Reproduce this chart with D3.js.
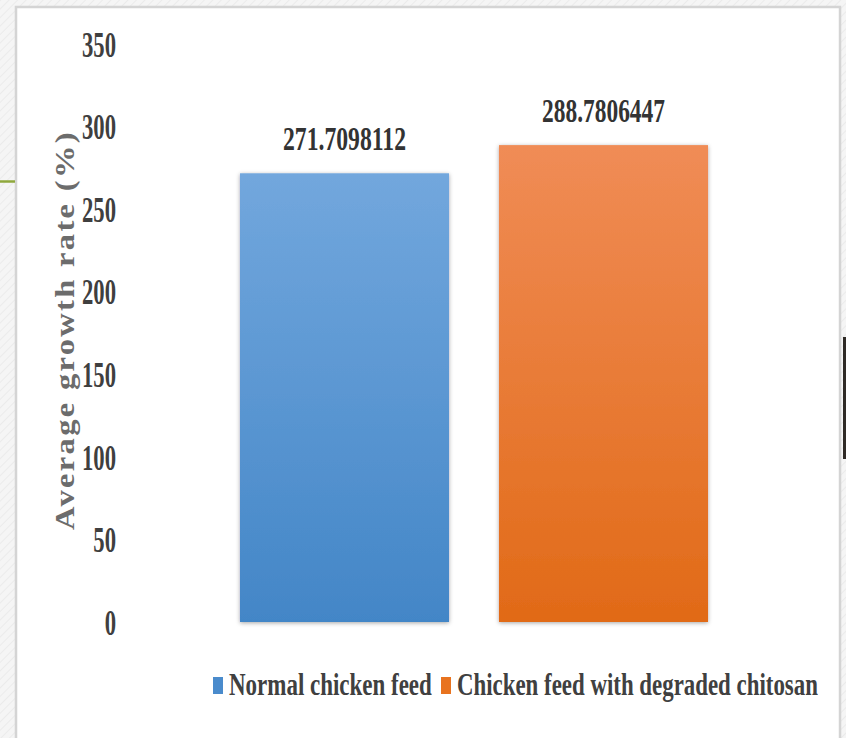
<!DOCTYPE html>
<html>
<head>
<meta charset="utf-8">
<script src="https://cdn.jsdelivr.net/npm/d3@7"></script>
<style>
  html, body { margin: 0; padding: 0; background: #fff; }
  svg { display: block; }
</style>
</head>
<body>
<svg id="chart" width="846" height="738"></svg>
<script>
// Average growth rate per feed type
const categories = ["Normal chicken feed", "Chicken feed with degraded chitosan"];
const values = [271.7098112, 288.7806447];
const valueLabels = ["271.7098112", "288.7806447"];
const yTicks = [0, 50, 100, 150, 200, 250, 300, 350];
const yTitle = "Average growth rate (%)";

const svg = d3.select("#chart");
const W = 846, H = 738;
const FONT = "'Liberation Serif', 'Times New Roman', serif";
const defs = svg.append("defs");

// faint diagonal hatch for the slide backdrop
const hatch = defs.append("pattern")
  .attr("id", "hatch").attr("width", 6).attr("height", 6)
  .attr("patternUnits", "userSpaceOnUse")
  .attr("patternTransform", "rotate(45)");
hatch.append("rect").attr("width", 6).attr("height", 6).attr("fill", "#f5f5f5");
hatch.append("line").attr("x1", 0).attr("y1", 0).attr("x2", 0).attr("y2", 6)
  .attr("stroke", "#ebebeb").attr("stroke-width", 2);

// bar gradients
const gradStops = [
  ["#72a7dd", "#4386c7"],
  ["#f08c56", "#e16a17"]
];
gradStops.forEach((s, i) => {
  const g = defs.append("linearGradient").attr("id", "grad" + i)
    .attr("x1", 0).attr("y1", 0).attr("x2", 0).attr("y2", 1);
  g.append("stop").attr("offset", "0%").attr("stop-color", s[0]);
  g.append("stop").attr("offset", "100%").attr("stop-color", s[1]);
});

// soft shadow under the bars
const sh = defs.append("filter").attr("id", "shadow")
  .attr("x", "-10%").attr("y", "-10%").attr("width", "120%").attr("height", "120%");
sh.append("feDropShadow").attr("dx", 0).attr("dy", 1).attr("stdDeviation", 2.2)
  .attr("flood-color", "#000").attr("flood-opacity", 0.35);

// backdrop and white panel
svg.append("rect").attr("width", W).attr("height", H).attr("fill", "url(#hatch)");
svg.append("rect").attr("x", 16).attr("y", 7).attr("width", 824).attr("height", 740)
  .attr("fill", "#fff").attr("stroke", "#d4d4d4").attr("stroke-width", 2.5);
svg.append("line").attr("x1", 0).attr("x2", 15).attr("y1", 181.5).attr("y2", 181.5)
  .attr("stroke", "#8fa83c").attr("stroke-width", 2.5);
svg.append("rect").attr("x", 843).attr("y", 337).attr("width", 3).attr("height", 122)
  .attr("fill", "#2f2a26");

// condensed text: a text squeezed horizontally to a given width
function fitText(parent, str, opts) {
  const g = parent.append("g");
  const t = g.append("text")
    .attr("text-anchor", opts.anchor || "start")
    .attr("font-family", FONT).attr("font-weight", "bold")
    .attr("font-size", opts.size).attr("fill", opts.fill)
    .attr("letter-spacing", opts.spacing || 0)
    .text(str);
  const natural = t.node().getComputedTextLength();
  const sx = opts.width / natural;
  g.attr("transform",
    `translate(${opts.x},${opts.y})` + (opts.rotate ? ` rotate(${opts.rotate})` : "") +
    ` scale(${sx},1)`);
  return t;
}

// scales
const y = d3.scaleLinear().domain([0, 350]).range([622, 44]);
const x = d3.scaleBand().domain(categories).range([215, 733])
  .paddingInner(0.193).paddingOuter(0.0965);

// y axis (labels only)
const yAxis = svg.append("g").attr("transform", "translate(116,0)")
  .call(d3.axisLeft(y).tickValues(yTicks).tickSize(0).tickPadding(0));
yAxis.select(".domain").remove();
yAxis.selectAll("text")
  .attr("x", 0).attr("dy", "0.34em")
  .attr("transform", "scale(0.63,1)")
  .attr("font-family", FONT)
  .attr("font-weight", "bold").attr("font-size", 36).attr("fill", "#3f3f3f");

// y axis title, rotated
fitText(svg, yTitle, { x: 74, y: 330, rotate: -90, anchor: "middle",
  size: 28, spacing: 2, width: 400, fill: "#6c6c6c" });

// bars
const fills = ["url(#grad0)", "url(#grad1)"];
svg.append("g").selectAll("rect").data(values).join("rect")
  .attr("x", (d, i) => x(categories[i]))
  .attr("y", d => y(d))
  .attr("width", x.bandwidth())
  .attr("height", d => y(0) - y(d))
  .attr("fill", (d, i) => fills[i])
  .attr("filter", "url(#shadow)");

// value labels
const labelG = svg.append("g");
values.forEach((v, i) => {
  fitText(labelG, valueLabels[i], {
    x: x(categories[i]) + x.bandwidth() / 2, y: y(v) - 23, anchor: "middle",
    size: 34, width: 123, fill: "#333"
  });
});

// legend
const legendItems = [
  { key: 0, mx: 213, tx: 229, tw: 203 },
  { key: 1, mx: 441, tx: 457, tw: 361 }
];
const markerColors = ["#4a8bcc", "#e8731f"];
const lg = svg.append("g");
legendItems.forEach(it => {
  lg.append("rect").attr("x", it.mx).attr("y", 677).attr("width", 10).attr("height", 17)
    .attr("fill", markerColors[it.key]);
  fitText(lg, categories[it.key], { x: it.tx, y: 695, size: 31, width: it.tw, fill: "#404040" });
});
</script>
</body>
</html>
